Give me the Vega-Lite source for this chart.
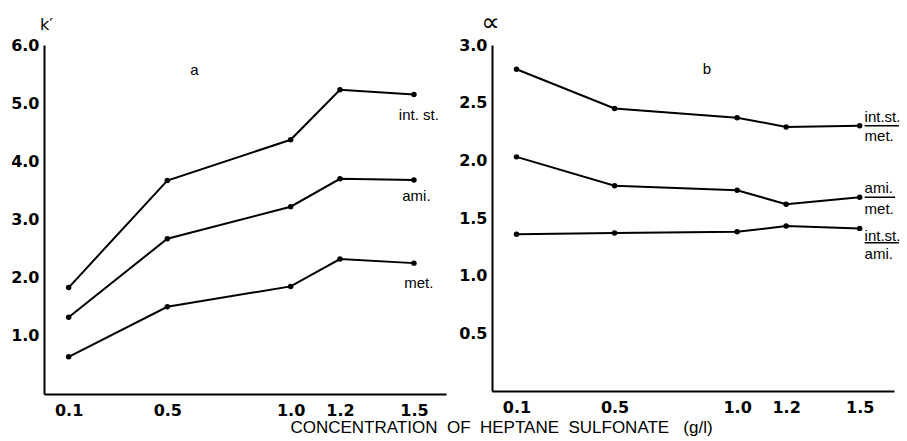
{
  "$schema": "https://vega.github.io/schema/vega-lite/v6.json",
  "background": "white",
  "padding": {"left": 10, "top": 9, "right": 0, "bottom": 0},
  "spacing": 12,
  "config": {
    "view": {"stroke": null},
    "axis": {
      "domainColor": "black", "domainWidth": 2, "ticks": false, "grid": false,
      "labelFont": "DejaVu Sans", "labelFontWeight": "bold", "labelFontSize": 16,
      "labelColor": "black", "labelPadding": 5,
      "titleFont": "DejaVu Sans", "titleFontWeight": "normal", "titleFontSize": 16, "titleColor": "black"
    },
    "text": {"font": "Liberation Sans", "fontSize": 15, "color": "black"}
  },
  "title": {
    "text": "CONCENTRATION\u00a0\u00a0OF\u00a0\u00a0HEPTANE\u00a0\u00a0SULFONATE\u00a0\u00a0\u00a0(g/l)",
    "orient": "bottom", "anchor": "middle", "dx": 46,
    "font": "Liberation Sans", "fontSize": 17, "fontWeight": "normal", "color": "black", "offset": 2
  },
  "datasets": {
    "k": [
      {"conc": 0.1, "k": 1.83, "compound": "int.st."},
      {"conc": 0.5, "k": 3.67, "compound": "int.st."},
      {"conc": 1.0, "k": 4.37, "compound": "int.st."},
      {"conc": 1.2, "k": 5.23, "compound": "int.st."},
      {"conc": 1.5, "k": 5.15, "compound": "int.st."},
      {"conc": 0.1, "k": 1.32, "compound": "ami."},
      {"conc": 0.5, "k": 2.67, "compound": "ami."},
      {"conc": 1.0, "k": 3.22, "compound": "ami."},
      {"conc": 1.2, "k": 3.70, "compound": "ami."},
      {"conc": 1.5, "k": 3.68, "compound": "ami."},
      {"conc": 0.1, "k": 0.64, "compound": "met."},
      {"conc": 0.5, "k": 1.50, "compound": "met."},
      {"conc": 1.0, "k": 1.85, "compound": "met."},
      {"conc": 1.2, "k": 2.32, "compound": "met."},
      {"conc": 1.5, "k": 2.25, "compound": "met."}
    ],
    "alpha": [
      {"conc": 0.1, "alpha": 2.79, "pair": "int.st./met."},
      {"conc": 0.5, "alpha": 2.45, "pair": "int.st./met."},
      {"conc": 1.0, "alpha": 2.37, "pair": "int.st./met."},
      {"conc": 1.2, "alpha": 2.29, "pair": "int.st./met."},
      {"conc": 1.5, "alpha": 2.30, "pair": "int.st./met."},
      {"conc": 0.1, "alpha": 2.03, "pair": "ami./met."},
      {"conc": 0.5, "alpha": 1.78, "pair": "ami./met."},
      {"conc": 1.0, "alpha": 1.74, "pair": "ami./met."},
      {"conc": 1.2, "alpha": 1.62, "pair": "ami./met."},
      {"conc": 1.5, "alpha": 1.68, "pair": "ami./met."},
      {"conc": 0.1, "alpha": 1.36, "pair": "int.st./ami."},
      {"conc": 0.5, "alpha": 1.37, "pair": "int.st./ami."},
      {"conc": 1.0, "alpha": 1.38, "pair": "int.st./ami."},
      {"conc": 1.2, "alpha": 1.43, "pair": "int.st./ami."},
      {"conc": 1.5, "alpha": 1.41, "pair": "int.st./ami."}
    ],
    "kLabels": [
      {"x": 1.52, "y": 4.8, "label": "int. st."},
      {"x": 1.51, "y": 3.4, "label": "ami."},
      {"x": 1.52, "y": 1.9, "label": "met."},
      {"x": 0.61, "y": 5.57, "label": "a"}
    ],
    "aLabels": [
      {"x": 1.52, "y": 2.38, "label": "int.st."},
      {"x": 1.52, "y": 2.21, "label": "met."},
      {"x": 1.52, "y": 1.76, "label": "ami."},
      {"x": 1.52, "y": 1.58, "label": "met."},
      {"x": 1.52, "y": 1.34, "label": "int.st."},
      {"x": 1.52, "y": 1.19, "label": "ami."},
      {"x": 0.86, "y": 2.79, "label": "b"}
    ],
    "bars": [
      {"x1": 1.52, "x2": 1.66, "y": 2.30},
      {"x1": 1.52, "x2": 1.645, "y": 1.68},
      {"x1": 1.52, "x2": 1.66, "y": 1.285}
    ]
  },
  "hconcat": [
    {
      "width": 402,
      "height": 349,
      "layer": [
        {
          "data": {"name": "k"},
          "mark": {"type": "line", "color": "black", "strokeWidth": 2},
          "encoding": {
            "x": {"field": "conc", "type": "quantitative",
                  "scale": {"domain": [0, 1.63], "nice": false, "zero": false},
                  "axis": {"values": [0.1, 0.5, 1.0, 1.2, 1.5], "format": ".1f", "title": null, "labelPadding": 8}},
            "y": {"field": "k", "type": "quantitative",
                  "scale": {"domain": [0, 6], "nice": false},
                  "axis": {"values": [1, 2, 3, 4, 5, 6], "format": ".1f", "title": "k′",
                           "titleAngle": 0, "titleAlign": "center", "titleBaseline": "alphabetic",
                           "titleX": 2, "titleY": -16}},
            "detail": {"field": "compound"}
          }
        },
        {
          "data": {"name": "k"},
          "mark": {"type": "point", "filled": true, "color": "black", "size": 30, "opacity": 1},
          "encoding": {
            "x": {"field": "conc", "type": "quantitative"},
            "y": {"field": "k", "type": "quantitative"}
          }
        },
        {
          "data": {"name": "kLabels"},
          "mark": {"type": "text", "align": "center", "baseline": "middle"},
          "encoding": {
            "x": {"field": "x", "type": "quantitative"},
            "y": {"field": "y", "type": "quantitative"},
            "text": {"field": "label"}
          }
        }
      ]
    },
    {
      "width": 402,
      "height": 346,
      "layer": [
        {
          "data": {"name": "alpha"},
          "mark": {"type": "line", "color": "black", "strokeWidth": 2},
          "encoding": {
            "x": {"field": "conc", "type": "quantitative",
                  "scale": {"domain": [0, 1.64], "nice": false, "zero": false},
                  "axis": {"values": [0.1, 0.5, 1.0, 1.2, 1.5], "format": ".1f", "title": null, "labelPadding": 8}},
            "y": {"field": "alpha", "type": "quantitative",
                  "scale": {"domain": [0, 3], "nice": false},
                  "axis": {"values": [0.5, 1, 1.5, 2, 2.5, 3], "format": ".1f", "title": "∝",
                           "titleAngle": 0, "titleAlign": "center", "titleBaseline": "alphabetic",
                           "titleX": -2, "titleY": -15, "titleFontSize": 26}},
            "detail": {"field": "pair"}
          }
        },
        {
          "data": {"name": "alpha"},
          "mark": {"type": "point", "filled": true, "color": "black", "size": 30, "opacity": 1},
          "encoding": {
            "x": {"field": "conc", "type": "quantitative"},
            "y": {"field": "alpha", "type": "quantitative"}
          }
        },
        {
          "data": {"name": "bars"},
          "mark": {"type": "rule", "color": "black", "strokeWidth": 1.5},
          "encoding": {
            "x": {"field": "x1", "type": "quantitative"},
            "x2": {"field": "x2"},
            "y": {"field": "y", "type": "quantitative"}
          }
        },
        {
          "data": {"name": "aLabels"},
          "mark": {"type": "text", "align": "left", "baseline": "middle"},
          "encoding": {
            "x": {"field": "x", "type": "quantitative"},
            "y": {"field": "y", "type": "quantitative"},
            "text": {"field": "label"}
          }
        }
      ]
    }
  ]
}
